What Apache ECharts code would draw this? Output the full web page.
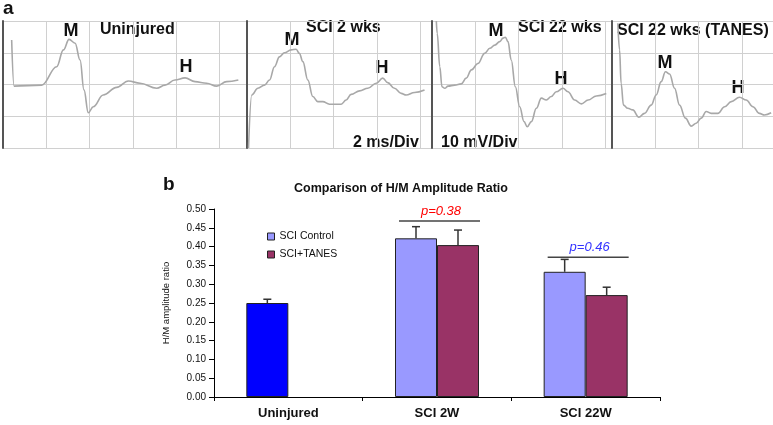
<!DOCTYPE html>
<html>
<head>
<meta charset="utf-8">
<script src="https://cdn.jsdelivr.net/npm/echarts@6/dist/echarts.min.js"></script>
<style>
html,body{margin:0;padding:0;background:#fff;}
#chart{width:773px;height:425px;}
</style>
</head>
<body>
<div id="chart"></div>
<script>
// ---------- Panel a: traces, [time ms, amplitude mV] ----------
const traceUninjured = [[0.40,14.0],[0.51,-0.5],[1.79,-0.2],[2.48,5.6],[2.79,10.9],[3.05,14.2],[3.33,13.0],[3.56,7.7],[3.74,-1.7],[3.94,-8.9],[4.17,-7.0],[4.63,-3.3],[5.25,-0.9],[5.79,1.1],[6.33,0.4],[7.10,-1.2],[7.48,-0.2],[7.94,1.4],[8.41,2.1],[8.87,0.9],[9.41,0.4],[9.87,-0.5],[10.33,0.9],[10.87,1.4]];
const traceSCI2 = [[0.07,-20.0],[0.22,-3.3],[0.50,-1.2],[0.81,-0.2],[1.04,1.4],[1.27,5.6],[1.50,8.7],[1.73,10.0],[2.04,10.9],[2.27,11.1],[2.42,9.8],[2.58,7.2],[2.81,1.4],[3.04,-3.8],[3.27,-5.4],[3.50,-5.4],[3.81,-6.2],[4.35,-6.2],[4.58,-4.9],[4.81,-3.1],[5.20,-2.0],[5.58,-1.2],[5.97,0.4],[6.27,2.0],[6.50,0.6],[6.81,-1.2],[7.12,-2.8],[7.35,-3.3],[7.74,-2.5],[8.20,-1.7]];
const traceSCI22 = [[0.20,20.0],[0.24,16.1],[0.36,5.6],[0.46,-0.7],[0.59,-1.2],[0.74,-0.5],[1.05,-0.2],[1.35,0.2],[1.58,2.0],[1.82,4.6],[2.12,6.6],[2.43,9.8],[2.67,11.4],[2.90,12.4],[3.13,13.5],[3.28,14.6],[3.39,14.9],[3.51,13.5],[3.66,7.7],[3.85,-0.7],[4.05,-7.0],[4.25,-11.7],[4.40,-13.3],[4.59,-11.7],[4.82,-7.5],[5.05,-4.3],[5.28,-4.9],[5.51,-3.8],[5.74,-2.3],[6.05,-1.2],[6.28,-2.3],[6.59,-4.9],[6.90,-6.1],[7.21,-4.9],[7.59,-3.6],[8.05,-2.8]];
const traceTANES = [[0.27,19.3],[0.35,10.9],[0.42,0.4],[0.53,-6.5],[0.73,-7.5],[0.96,-8.0],[1.24,-10.3],[1.50,-9.1],[1.81,-6.5],[2.04,-3.3],[2.27,0.9],[2.47,4.0],[2.66,3.3],[2.89,-1.2],[3.12,-6.5],[3.39,-10.6],[3.66,-13.1],[3.89,-12.2],[4.12,-10.6],[4.35,-8.5],[4.58,-9.1],[4.89,-9.1],[5.20,-7.0],[5.51,-5.4],[5.89,-4.0],[6.20,-4.9],[6.51,-7.0],[6.81,-9.1],[7.04,-9.6],[7.35,-8.9]];
const traces = [traceUninjured, traceSCI2, traceSCI22, traceTANES];

// ---------- Panel b: bar chart data ----------
const categories = ['Uninjured', 'SCI 2W', 'SCI 22W'];
const seriesNames = ['SCI Control', 'SCI+TANES'];
const ctrlValues = [0.25, 0.422, 0.333];
const ctrlErrors = [0.010, 0.031, 0.033];
const tanesValues = [null, 0.404, 0.271];
const tanesErrors = [null, 0.040, 0.021];
const sigLevels = [null, 0.468, 0.372];
const sigTexts = ['', 'p=0.38', 'p=0.46'];
const yTickStep = 0.05;

// ---------- layout / style ----------
const FONT = 'Liberation Sans, Arial, sans-serif';
const PX_PER_MS = 21.65;
const panelLefts = [3, 247, 432, 612];
const panelWidths = [244, 185, 180, 161];
const PANEL_TOP = 21, PANEL_H = 127;
const BAR_W = 42, CAP = 4;
const sigColors = ['#000', '#ff0000', '#3333ff'];
const uninjuredColor = '#0000ff';

const grids = [], xAxes = [], yAxes = [], series = [];
for (let i = 0; i < 4; i++) {
  grids.push({left: panelLefts[i], top: PANEL_TOP, width: panelWidths[i], height: PANEL_H});
  xAxes.push({gridIndex: i, type: 'value', min: 0, max: panelWidths[i] / PX_PER_MS, interval: 2,
    axisLine: {show: false}, axisTick: {show: false}, axisLabel: {show: false},
    splitLine: {show: true, lineStyle: {color: '#d0d0d0', width: 1}}});
  yAxes.push({gridIndex: i, type: 'value', min: -20, max: 20, interval: 10,
    axisLine: {show: true, onZero: false, lineStyle: {color: '#555', width: 2}},
    axisTick: {show: false}, axisLabel: {show: false},
    splitLine: {show: true, lineStyle: {color: '#d0d0d0', width: 1}}});
  series.push({type: 'line', xAxisIndex: i, yAxisIndex: i, data: traces[i], showSymbol: false,
    smooth: 0.4, smoothMonotone: 'x', lineStyle: {color: '#a8a8a8', width: 1.6}, silent: true});
}

// panel b
grids.push({left: 214, top: 209, right: 113, bottom: 28});
xAxes.push({gridIndex: 4, type: 'category', data: categories,
  axisLine: {lineStyle: {color: '#000', width: 1}},
  axisTick: {show: true, interval: 0, length: 4, lineStyle: {color: '#000'}},
  axisLabel: {fontFamily: FONT, fontSize: 13, fontWeight: 'bold', color: '#111', margin: 10, interval: 0},
  splitLine: {show: false}});
yAxes.push({gridIndex: 4, type: 'value', min: 0, max: 0.5, interval: yTickStep,
  name: 'H/M amplitude ratio', nameLocation: 'middle', nameGap: 43, nameRotate: 90,
  nameTextStyle: {fontFamily: FONT, fontSize: 9.5, color: '#111'},
  axisLine: {show: true, lineStyle: {color: '#000', width: 1}},
  axisTick: {show: true, length: 5, lineStyle: {color: '#000'}},
  axisLabel: {fontFamily: FONT, fontSize: 10, color: '#111', margin: 8, formatter: v => v.toFixed(2)},
  splitLine: {show: false}});

series.push({name: seriesNames[0], type: 'bar', xAxisIndex: 4, yAxisIndex: 4, barWidth: BAR_W, barGap: '0%',
  itemStyle: {color: '#9999ff', borderColor: '#222', borderWidth: 1},
  data: ctrlValues.map((v, i) => i === 0 ? {value: v, itemStyle: {color: uninjuredColor}} : v)});
series.push({name: seriesNames[1], type: 'bar', xAxisIndex: 4, yAxisIndex: 4, barWidth: BAR_W, barGap: '0%',
  itemStyle: {color: '#993366', borderColor: '#222', borderWidth: 1},
  data: tanesValues.map(v => v === null ? '-' : v)});

const errData = [];
ctrlValues.forEach((v, i) => { if (v !== null && ctrlErrors[i] !== null) errData.push([i, v, ctrlErrors[i], -1]); });
tanesValues.forEach((v, i) => { if (v !== null && tanesErrors[i] !== null) errData.push([i, v, tanesErrors[i], 1]); });
series.push({type: 'custom', xAxisIndex: 4, yAxisIndex: 4, z: 5, silent: true, data: errData,
  renderItem: (params, api) => {
    const cat = api.value(0), v = api.value(1), e = api.value(2), side = api.value(3);
    const b = api.coord([cat, v]), t = api.coord([cat, v + e]);
    const x = b[0] + side * BAR_W / 2;
    return {type: 'group', children: [
      {type: 'line', shape: {x1: x, y1: b[1], x2: x, y2: t[1]}, style: {stroke: '#333', lineWidth: 1.5}},
      {type: 'line', shape: {x1: x - CAP, y1: t[1], x2: x + CAP, y2: t[1]}, style: {stroke: '#333', lineWidth: 1.5}}
    ]};
  }});

const sigData = [];
sigLevels.forEach((s, i) => { if (s !== null) sigData.push([i, s]); });
series.push({type: 'custom', xAxisIndex: 4, yAxisIndex: 4, z: 5, silent: true, data: sigData,
  renderItem: (params, api) => {
    const cat = api.value(0), s = api.value(1);
    const p = api.coord([cat, s]);
    return {type: 'group', children: [
      {type: 'line', shape: {x1: p[0] - 38, y1: p[1], x2: p[0] + 43, y2: p[1]}, style: {stroke: '#444', lineWidth: 1.5}},
      {type: 'text', x: p[0] + 4, y: p[1] - 3, style: {text: sigTexts[cat], fill: sigColors[cat],
        font: 'italic 13px ' + FONT, textAlign: 'center', textVerticalAlign: 'bottom'}}
    ]};
  }});

function txt(text, x, y, size, align) {
  return {type: 'text', x: x, y: y, silent: true,
    style: {text: text, fill: '#111', font: 'bold ' + size + 'px ' + FONT,
      textAlign: align || 'center', textVerticalAlign: 'middle'}};
}

const option = {
  animation: false,
  backgroundColor: '#fff',
  grid: grids, xAxis: xAxes, yAxis: yAxes, series: series,
  legend: {data: seriesNames, orient: 'vertical', left: 262, top: 226, itemWidth: 7, itemHeight: 7,
    itemGap: 7, itemStyle: {borderColor: '#222', borderWidth: 1}, icon: 'rect',
    textStyle: {fontFamily: FONT, fontSize: 10.5, color: '#111'}},
  title: {text: 'Comparison of H/M Amplitude Ratio', left: 396, top: 177, textAlign: 'center',
    textStyle: {fontFamily: FONT, fontSize: 12.5, fontWeight: 'bold', color: '#111'}},
  graphic: [
    txt('a', 3, 9, 19, 'left'),
    txt('M', 71, 31, 18), txt('Uninjured', 100, 30, 16, 'left'), txt('H', 186, 67, 18),
    txt('SCI 2 wks', 306, 28, 16, 'left'), txt('M', 292, 40, 18), txt('H', 382, 68, 18),
    txt('2 ms/Div', 353, 143, 16, 'left'),
    txt('M', 496, 31, 18), txt('SCI 22 wks', 518, 28, 16, 'left'), txt('H', 561, 79, 18),
    txt('10 mV/Div', 441, 143, 16, 'left'),
    txt('SCI 22 wks (TANES)', 617, 31, 16, 'left'), txt('M', 665, 63, 18), txt('H', 738, 88, 18),
    txt('b', 163, 185, 19, 'left')
  ]
};

const chart = echarts.init(document.getElementById('chart'), null, {renderer: 'canvas'});
chart.setOption(option);
</script>
</body>
</html>
